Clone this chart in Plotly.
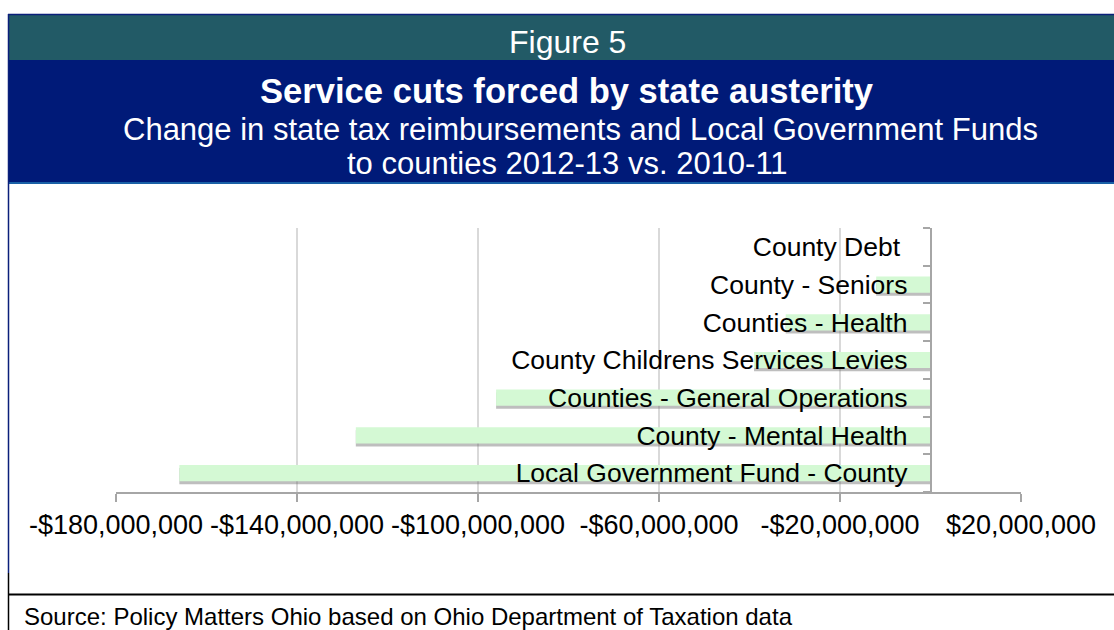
import plotly.graph_objects as go

# ---------------- data ----------------
categories = [
    "Local Government Fund - County",
    "County - Mental Health",
    "Counties - General Operations",
    "County Childrens Services Levies",
    "Counties - Health",
    "County - Seniors",
    "County Debt\u00a0",
]
values = [-166_000_000, -127_000_000, -96_000_000, -39_000_000, -32_000_000, -12_000_000, 0]

tick_vals = [-180_000_000, -140_000_000, -100_000_000, -60_000_000, -20_000_000, 20_000_000]
tick_text = ["-$180,000,000", "-$140,000,000", "-$100,000,000", "-$60,000,000", "-$20,000,000", "$20,000,000"]

figure_label = "Figure 5"
title_text = "Service cuts forced by state austerity"
subtitle_1 = "Change in state tax reimbursements and Local Government Funds"
subtitle_2 = "to counties 2012-13 vs. 2010-11"
source_text = "Source: Policy Matters Ohio based on Ohio Department of Taxation data"

# ---------------- layout geometry ----------------
W, H = 1114, 630
L, R, T, B = 116, 1021, 228, 492
FONT = "Liberation Sans, Arial, sans-serif"


def px(x):
    return (x - L) / (R - L)


def py(y):
    return (B - y) / (B - T)


BAR_W = 0.43
SHADOW = 0.08

fig = go.Figure()
fig.add_trace(go.Bar(
    x=values, y=categories, orientation="h", width=BAR_W,
    offset=-BAR_W / 2 - SHADOW,
    marker=dict(color="rgba(110,110,110,0.45)", line=dict(width=0)),
    hoverinfo="skip", showlegend=False,
))
fig.add_trace(go.Bar(
    x=values, y=categories, orientation="h", width=BAR_W,
    offset=-BAR_W / 2,
    marker=dict(color="#D4F9D4", line=dict(width=0)),
    showlegend=False,
))

shapes = []
# teal band
shapes.append(dict(type="rect", xref="paper", yref="paper", layer="below",
                   x0=px(9), x1=px(1116), y0=py(15), y1=py(60),
                   fillcolor="#225A66", line=dict(width=0)))
# navy band
shapes.append(dict(type="rect", xref="paper", yref="paper", layer="below",
                   x0=px(9), x1=px(1116), y0=py(60), y1=py(182),
                   fillcolor="#001A78", line=dict(width=0)))
# light blue rule under header
shapes.append(dict(type="line", xref="paper", yref="paper",
                   x0=px(9), x1=px(1116), y0=py(183), y1=py(183),
                   line=dict(color="#1A60A6", width=2)))
# top border
shapes.append(dict(type="line", xref="paper", yref="paper",
                   x0=px(8), x1=px(1116), y0=py(14.5), y1=py(14.5),
                   line=dict(color="#0B1F7A", width=1.5)))
# left border (blue then black)
shapes.append(dict(type="line", xref="paper", yref="paper",
                   x0=px(8.5), x1=px(8.5), y0=py(14), y1=py(573),
                   line=dict(color="#0B1F7A", width=1.5)))
shapes.append(dict(type="line", xref="paper", yref="paper",
                   x0=px(8.5), x1=px(8.5), y0=py(573), y1=py(632),
                   line=dict(color="#000000", width=1.5)))
# black rule above source
shapes.append(dict(type="line", xref="paper", yref="paper",
                   x0=px(8), x1=px(1116), y0=py(594.5), y1=py(594.5),
                   line=dict(color="#000000", width=2)))

annotations = [
    dict(text=figure_label, x=px(567), y=py(42), xref="paper", yref="paper",
         showarrow=False, xanchor="center", yanchor="middle",
         font=dict(family=FONT, size=32, color="white")),
    dict(text="<b>" + title_text + "</b>", x=px(567), y=py(91), xref="paper", yref="paper",
         showarrow=False, xanchor="center", yanchor="middle",
         font=dict(family=FONT, size=34.6, color="white")),
    dict(text=subtitle_1, x=px(580), y=py(129), xref="paper", yref="paper",
         showarrow=False, xanchor="center", yanchor="middle",
         font=dict(family=FONT, size=31, color="white")),
    dict(text=subtitle_2, x=px(567), y=py(163), xref="paper", yref="paper",
         showarrow=False, xanchor="center", yanchor="middle",
         font=dict(family=FONT, size=31, color="white")),
    dict(text=source_text, x=px(22), y=py(616), xref="paper", yref="paper",
         showarrow=False, xanchor="left", yanchor="middle",
         font=dict(family=FONT, size=24, color="black")),
]

fig.update_layout(
    width=W, height=H,
    margin=dict(l=L, r=W - R, t=T, b=H - B, pad=0),
    paper_bgcolor="white", plot_bgcolor="white",
    barmode="overlay",
    showlegend=False,
    shapes=shapes,
    annotations=annotations,
    font=dict(family=FONT, color="black"),
    xaxis=dict(
        range=[-180_000_000, 20_000_000],
        tickmode="array", tickvals=tick_vals, ticktext=tick_text,
        showgrid=True, gridcolor="#D9D9D9", gridwidth=1.5,
        zeroline=False,
        showline=True, linecolor="#A6A6A6", linewidth=1.5,
        ticks="outside", ticklen=8, tickcolor="#A6A6A6", tickwidth=1.5,
        tickfont=dict(family=FONT, size=27, color="black"),
        fixedrange=True,
    ),
    yaxis=dict(
        type="category", categoryorder="array", categoryarray=categories,
        range=[-0.5, len(categories) - 0.5],
        anchor="free", position=0.9,
        showgrid=False, zeroline=False,
        showline=True, linecolor="#A6A6A6", linewidth=1.5,
        ticks="outside", tickson="boundaries", ticklen=7, tickcolor="#A6A6A6", tickwidth=1.5,
        ticklabelstandoff=17,
        tickfont=dict(family=FONT, size=26.5, color="black"),
        fixedrange=True,
    ),
)

fig.write_html(
    "out.html",
    config={"displayModeBar": False},
    post_script="document.body.style.margin='0';document.body.style.overflow='hidden';",
)
